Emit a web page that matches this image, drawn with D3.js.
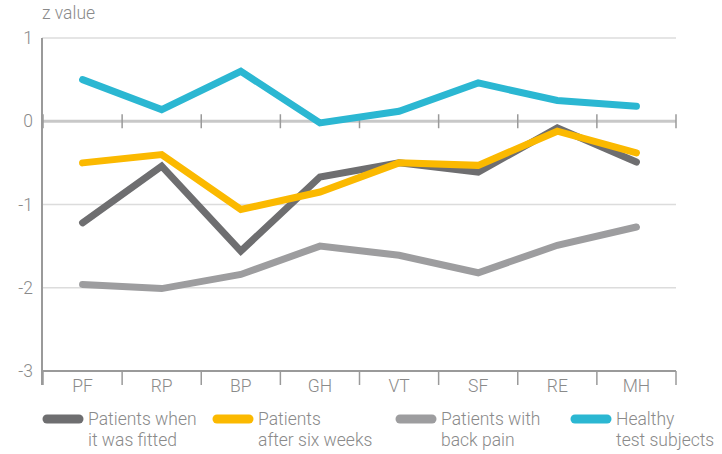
<!DOCTYPE html>
<meta charset="utf-8">
<script src="https://d3js.org/d3.v7.min.js"></script>
<style>
	body { margin: 0; background: #fff; }
	svg { display: block; font-family: Roboto, "DejaVu Sans", sans-serif; }
	.lbl { fill: #8a8a8a; font-size: 17.5px; font-weight: 300; }
</style>
<body>
	<div id="chart"></div>
</body>
<script>
	const width = 722, height = 454;

	// categories and series (z values)
	const categories = ["PF", "RP", "BP", "GH", "VT", "SF", "RE", "MH"];
	const fitted = [-1.22, -0.54, -1.56, -0.67, -0.50, -0.61, -0.08, -0.49];
	const sixWeeks = [-0.50, -0.40, -1.06, -0.85, -0.50, -0.53, -0.12, -0.38];
	const backPain = [-1.96, -2.01, -1.84, -1.50, -1.61, -1.82, -1.49, -1.27];
	const healthy = [0.50, 0.14, 0.60, -0.02, 0.12, 0.46, 0.25, 0.18];
	const yTicks = [1, 0, -1, -2, -3];

	const series = [
		{ name: ["Patients when", "it was fitted"], values: fitted, color: "#6e6e70" },
		{ name: ["Patients", "after six weeks"], values: sixWeeks, color: "#fbb900" },
		{ name: ["Patients with", "back pain"], values: backPain, color: "#9d9d9f" },
		{ name: ["Healthy", "test subjects"], values: healthy, color: "#2bb7d2" }
	];
	// draw order: back pain and healthy first, then fitted, then six weeks on top
	const drawOrder = [2, 3, 0, 1];

	const x = d3.scaleBand().domain(categories).range([43, 676]);
	const y = d3.scaleLinear().domain([-3, 1]).range([371, 38]);

	const svg = d3.select("#chart").append("svg")
		.attr("width", width)
		.attr("height", height);

	// gridlines
	svg.append("g").selectAll("line")
		.data(yTicks.filter(d => d !== 0 && d !== -3))
		.enter().append("line")
		.attr("x1", 42).attr("x2", 676)
		.attr("y1", d => y(d)).attr("y2", d => y(d))
		.attr("stroke", "#dcdcdc").attr("stroke-width", 1.5);

	// zero line and bottom axis line
	svg.append("line")
		.attr("x1", 42).attr("x2", 676)
		.attr("y1", y(0)).attr("y2", y(0))
		.attr("stroke", "#c8c8c8").attr("stroke-width", 3);
	svg.append("line")
		.attr("x1", 42).attr("x2", 676)
		.attr("y1", y(-3)).attr("y2", y(-3))
		.attr("stroke", "#9a9a9a").attr("stroke-width", 2);

	// band edge ticks
	const edges = categories.map(c => x(c)).concat([x.range()[1]]);
	svg.append("g").selectAll("line")
		.data(edges)
		.enter().append("line")
		.attr("x1", d => d).attr("x2", d => d)
		.attr("y1", y(0) - 7).attr("y2", y(0) + 7)
		.attr("stroke", "#9a9a9a").attr("stroke-width", 1.5);
	svg.append("g").selectAll("line")
		.data(edges)
		.enter().append("line")
		.attr("x1", d => d).attr("x2", d => d)
		.attr("y1", y(-3)).attr("y2", y(-3) + 14)
		.attr("stroke", "#9a9a9a").attr("stroke-width", 1.5);

	// y axis
	svg.append("line")
		.attr("x1", 42).attr("x2", 42)
		.attr("y1", y(1)).attr("y2", y(-3) + 14)
		.attr("stroke", "#9a9a9a").attr("stroke-width", 2);

	svg.append("g").selectAll("text")
		.data(yTicks)
		.enter().append("text")
		.attr("class", "lbl")
		.attr("x", 33)
		.attr("y", d => y(d) + 6)
		.attr("text-anchor", "end")
		.text(d => d === 0 ? "0" : (d < 0 ? "-" + Math.abs(d) : d));

	svg.append("text")
		.attr("class", "lbl")
		.attr("x", 42).attr("y", 19)
		.text("z value");

	// category labels
	svg.append("g").selectAll("text")
		.data(categories)
		.enter().append("text")
		.attr("class", "lbl")
		.attr("x", d => x(d) + x.bandwidth() / 2)
		.attr("y", 392)
		.attr("text-anchor", "middle")
		.text(d => d);

	// lines
	const line = d3.line()
		.x((d, i) => x(categories[i]) + x.bandwidth() / 2)
		.y(d => y(d));

	svg.append("g").selectAll("path")
		.data(drawOrder.map(i => series[i]))
		.enter().append("path")
		.attr("d", d => line(d.values))
		.attr("fill", "none")
		.attr("stroke", d => d.color)
		.attr("stroke-width", 7)
		.attr("stroke-linecap", "round")
		.attr("stroke-linejoin", "miter");

	// legend
	const legendX = [43, 213, 396, 571];
	const legend = svg.append("g").selectAll("g")
		.data(series)
		.enter().append("g")
		.attr("transform", (d, i) => "translate(" + legendX[i] + ",419)");

	legend.append("line")
		.attr("x1", 4).attr("x2", 36)
		.attr("y1", 0).attr("y2", 0)
		.attr("stroke", d => d.color)
		.attr("stroke-width", 9)
		.attr("stroke-linecap", "round");

	legend.append("text")
		.attr("class", "lbl")
		.selectAll("tspan")
		.data(d => d.name)
		.enter().append("tspan")
		.attr("x", 45)
		.attr("y", (d, i) => 6 + i * 21)
		.text(d => d);
</script>
